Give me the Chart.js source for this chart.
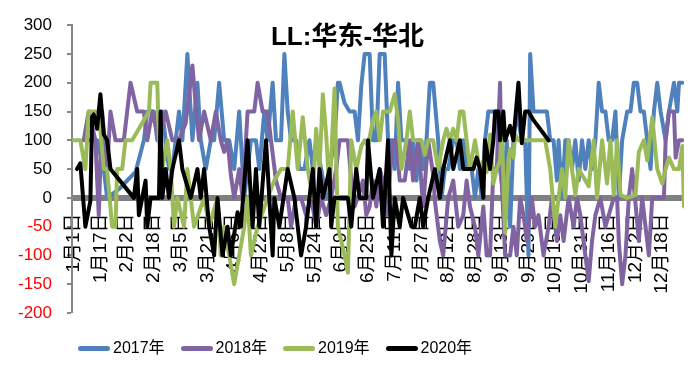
<!DOCTYPE html>
<html>
<head>
<meta charset="utf-8">
<script src="https://cdn.jsdelivr.net/npm/chart.js@4"></script>
<style>
  body { margin: 0; background: #fff; }
  #wrap { position: relative; width: 695px; height: 372px; }
  #title { position: absolute; left: 0; top: 21px; width: 695px; text-align: center;
    font: bold 26px "Liberation Sans", "Noto Sans CJK SC", sans-serif; line-height: 30px; }
  #legend { position: absolute; left: 78px; top: 338px; display: flex;
    font: 16px "Liberation Sans", "Noto Sans CJK SC", sans-serif; line-height: 20px; }
  .item { width: 102.5px; display: flex; align-items: center; }
  .swatch { width: 32px; height: 5px; border-radius: 3px; margin-right: 3px; }
</style>
</head>
<body>
<div id="wrap">
  <canvas id="chart" width="695" height="372"></canvas>
  <div id="title">LL:华东-华北</div>
  <div id="legend"></div>
</div>
<script>
// x axis: day of year (leap-year calendar), labels every 16 days
const tickLabels = ['1月1日', '1月17日', '2月2日', '2月18日', '3月5日', '3月21日', '4月6日', '4月22日',
  '5月8日', '5月24日', '6月9日', '6月25日', '7月11日', '7月27日', '8月12日', '8月28日', '9月13日',
  '9月29日', '10月15日', '10月31日', '11月16日', '12月2日', '12月18日'];

const seriesNames = ['2017年', '2018年', '2019年', '2020年'];
const seriesColors = ['#4F81BD', '#8064A2', '#9BBB59', '#000000'];

// [day, value] pairs
const d2017 = [[8,100],[14,100],[18,50],[20,0],[27,15],[37,45],[42,100],[44,150],[48,150],[50,100],[53,150],[55,100],
  [57,50],[59,50],[61,100],[63,150],[65,100],[68,250],[71,100],[74,200],[76,100],[79,50],[82,100],[84,100],[87,200],
  [90,100],[93,100],[96,50],[99,150],[102,0],[104,50],[106,100],[109,100],[111,50],[114,150],[116,100],[119,200],
  [121,100],[124,100],[126,250],[128,150],[130,100],[133,100],[135,50],[138,50],[141,100],[143,50],[145,100],[148,50],
  [151,0],[153,50],[156,100],[158,200],[159,200],[162,165],[165,150],[168,150],[170,100],[172,195],[174,250],[177,250],
  [179,100],[181,100],[183,250],[186,250],[188,100],[190,100],[192,50],[194,200],[196,100],[199,100],[201,50],[203,100],
  [205,30],[207,100],[209,50],[211,100],[213,200],[215,200],[218,100],[220,0],[222,50],[224,50],[227,100],[229,100],
  [231,50],[233,100],[235,50],[238,50],[240,0],[242,50],[244,0],[246,100],[248,150],[250,150],[253,150],[255,50],
  [257,0],[259,100],[261,-50],[263,100],[265,150],[268,100],[270,100],[272,-100],[273,250],[275,150],[283,150],
  [285,100],[287,100],[289,30],[290,100],[292,0],[294,100],[296,100],[298,50],[300,100],[302,30],[304,100],[306,50],
  [308,100],[310,50],[312,100],[314,200],[316,150],[318,150],[320,100],[322,100],[324,150],[326,0],[328,100],[331,150],
  [333,150],[335,200],[337,200],[339,150],[341,150],[343,100],[345,50],[347,150],[349,200],[351,150],[354,100],
  [356,150],[359,200],[361,150],[362,200],[364,200]];

const d2018 = [[6,100],[9,150],[13,100],[15,-30],[17,150],[20,50],[22,150],[25,100],[30,100],[34,200],[38,150],[42,150],
  [44,100],[47,150],[51,100],[55,150],[59,100],[63,100],[67,130],[71,230],[73,160],[75,100],[78,150],[82,100],[85,150],
  [88,100],[90,80],[92,100],[94,40],[96,0],[99,50],[101,0],[104,150],[108,150],[110,200],[113,150],[116,150],[118,100],
  [121,30],[124,0],[128,0],[130,-50],[133,0],[136,0],[139,-30],[142,0],[145,-50],[148,0],[151,-30],[154,0],[157,50],
  [159,100],[164,100],[166,30],[168,-15],[171,10],[173,30],[175,-30],[177,-15],[179,30],[181,-15],[183,50],[185,30],
  [187,-30],[191,100],[193,100],[195,30],[198,30],[201,100],[203,30],[206,100],[209,-15],[212,100],[215,40],[216,-5],
  [219,-75],[221,-100],[224,0],[227,30],[230,-50],[233,-30],[235,30],[237,-15],[240,-50],[242,-100],[245,-15],
  [247,-100],[249,-100],[251,50],[253,50],[255,200],[256,30],[258,-100],[261,-100],[263,-50],[265,-100],[267,0],
  [269,-30],[271,-75],[274,0],[276,-50],[278,-30],[281,-100],[284,-50],[286,0],[289,-75],[291,-30],[293,-75],[296,0],
  [299,-50],[301,0],[303,-30],[306,-100],[308,-145],[310,-75],[312,-30],[315,0],[318,-50],[320,-30],[323,0],[325,0],
  [326,-75],[328,-150],[330,-100],[332,0],[334,50],[336,-10],[338,-75],[340,0],[342,-50],[344,-100],[346,0],[349,0],
  [353,0],[354,100],[356,150],[359,150],[360,70],[362,100],[364,100]];

const d2019 = [[0,100],[4,100],[7,50],[9,150],[15,150],[18,50],[20,50],[23,-50],[25,-50],[26,50],[29,50],[31,100],
  [35,100],[45,150],[46,200],[50,200],[51,100],[53,50],[56,100],[58,50],[60,-50],[62,0],[66,-50],[68,50],[70,0],
  [72,-50],[78,0],[81,-50],[86,0],[88,-100],[90,-50],[96,-150],[99,-100],[102,-50],[104,0],[106,-100],[110,-50],
  [116,0],[120,30],[124,50],[128,50],[131,150],[134,50],[137,140],[140,50],[143,0],[145,120],[147,50],[149,180],
  [151,110],[153,10],[156,190],[158,-50],[162,-100],[164,-130],[166,100],[169,50],[172,90],[174,100],[176,90],
  [179,135],[181,150],[183,100],[185,150],[189,150],[192,180],[194,135],[196,50],[199,100],[201,150],[203,100],
  [208,100],[210,75],[212,100],[215,100],[218,50],[221,100],[223,120],[225,100],[227,120],[229,100],[231,150],
  [233,150],[235,100],[237,50],[240,100],[243,45],[245,65],[247,45],[249,110],[251,25],[253,50],[255,65],[256,120],
  [258,-60],[260,65],[261,85],[263,70],[264,110],[266,100],[272,100],[282,100],[285,50],[288,-50],[290,0],[292,50],
  [294,0],[296,100],[298,50],[300,5],[302,50],[304,40],[308,20],[311,100],[313,0],[316,100],[319,25],[321,100],
  [323,5],[325,100],[327,5],[331,0],[336,5],[338,80],[341,100],[343,65],[346,140],[349,50],[352,25],[354,50],
  [356,70],[359,50],[362,50],[364,90],[365,-15]];

const d2020 = [[2,50],[4,60],[7,-50],[10,-5],[11,140],[12,145],[14,120],[16,180],[18,110],[20,100],[22,50],[36,0],
  [38,50],[39,-30],[41,0],[43,30],[44,-50],[46,0],[51,0],[52,150],[53,0],[55,50],[57,0],[59,50],[63,100],[65,50],
  [70,0],[74,50],[76,0],[78,50],[81,-50],[84,-100],[86,0],[89,-100],[92,-50],[94,-100],[98,-25],[100,-50],[104,100],
  [107,-50],[109,50],[111,-50],[115,100],[119,-100],[120,0],[123,-50],[128,50],[132,0],[136,-100],[139,-50],[143,50],
  [145,-50],[147,50],[149,0],[153,50],[154,-50],[156,0],[164,0],[166,-50],[169,50],[171,0],[175,0],[176,100],[179,0],
  [183,50],[185,-50],[188,100],[190,-100],[192,0],[195,-50],[197,0],[202,-50],[204,-50],[207,0],[209,-50],[212,0],
  [216,50],[219,0],[221,50],[225,100],[227,50],[231,100],[233,50],[239,50],[241,70],[243,50],[245,0],[246,100],
  [249,50],[251,100],[252,150],[254,150],[255,100],[257,150],[258,100],[261,125],[263,100],[264,135],[266,200],
  [268,95],[270,150],[272,150],[275,135],[284,100]];

const seriesData = [d2017, d2018, d2019, d2020];

function dayOfYear(label) {
  const m = label.match(/(\d+)月(\d+)日/);
  return Math.round((Date.UTC(2020, m[1] - 1, +m[2]) - Date.UTC(2020, 0, 1)) / 864e5);
}
const tickDays = tickLabels.map(dayOfYear);

// legend (html so it can sit left of centre like the original)
const legendEl = document.getElementById('legend');
seriesNames.forEach((name, i) => {
  const item = document.createElement('div');
  item.className = 'item';
  item.innerHTML = `<span class="swatch" style="background:${seriesColors[i]}"></span><span>${name}</span>`;
  legendEl.appendChild(item);
});

Chart.defaults.font.family = '"Liberation Sans", "Noto Sans CJK SC", sans-serif';

new Chart(document.getElementById('chart'), {
  type: 'line',
  data: {
    datasets: seriesNames.map((name, i) => ({
      label: name,
      data: seriesData[i].map(p => ({ x: p[0], y: p[1] })),
      borderColor: seriesColors[i],
      backgroundColor: seriesColors[i],
      borderWidth: 4,
      pointRadius: 0,
      tension: 0,
      borderJoinStyle: 'round',
      borderCapStyle: 'round',
      order: seriesNames.length - i
    }))
  },
  options: {
    responsive: false,
    animation: false,
    layout: { padding: { top: 13, right: 11, bottom: 59, left: 0 } },
    plugins: { legend: { display: false }, tooltip: { enabled: false } },
    scales: {
      x: {
        type: 'linear',
        min: -1,
        max: 365,
        // labels hang a little below the zero line, like the original
        position: { y: -27 },
        afterFit: s => { s.height = 0; },
        afterBuildTicks: s => { s.ticks = tickDays.map(v => ({ value: v })); },
        grid: { drawOnChartArea: false, drawTicks: false },
        border: { color: 'rgba(0,0,0,0)', width: 6 },
        ticks: {
          autoSkip: false,
          minRotation: 90,
          maxRotation: 90,
          padding: 0,
          color: '#000',
          font: { size: 19 },
          callback: (v, i) => tickLabels[i]
        }
      },
      y: {
        min: -200,
        max: 300,
        afterFit: s => { s.width = 72; },
        // only the zero grid line is shown: the thick grey band
        grid: {
          color: c => (c.tick && c.tick.value === 0) ? '#808080' : 'rgba(0,0,0,0)',
          lineWidth: c => (c.tick && c.tick.value === 0) ? 6 : 0,
          tickColor: '#868686',
          tickWidth: 2,
          tickLength: 5
        },
        border: { color: '#868686', width: 2 },
        ticks: {
          stepSize: 50,
          padding: 15,
          color: c => (c.tick && c.tick.value < 0) ? '#FF0000' : '#000000',
          font: { size: 17 }
        }
      }
    }
  }
});
</script>
</body>
</html>
